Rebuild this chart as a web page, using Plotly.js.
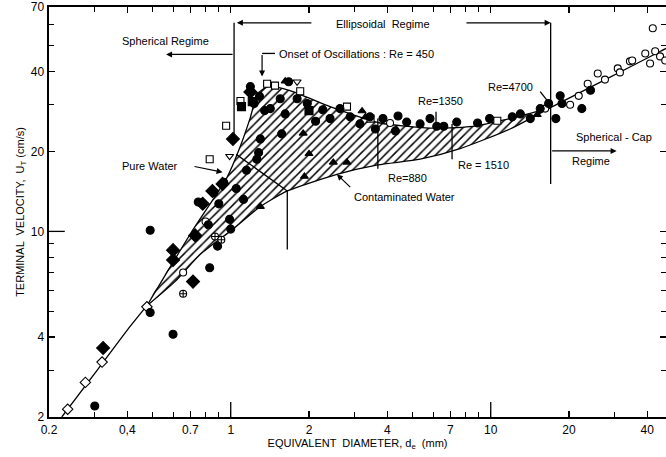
<!DOCTYPE html>
<html><head><meta charset="utf-8">
<script src="https://cdn.plot.ly/plotly-3.0.1.min.js"></script>
<style>html,body{margin:0;padding:0;background:#fff}#chart{width:666px;height:457px}</style>
</head><body><div id="chart"></div>
<script>
// ---- curves (d_e in mm, U_T in cm/s) ----
const commonD = [0.224, 0.30, 0.40, 0.476];
const commonU = [2.0, 2.92, 4.25, 5.25];
const pureD = [0.476, 0.70, 0.968, 1.086, 1.186, 1.27, 1.39, 1.69, 2.41, 3.75, 5.84, 8.32, 11.86, 16.9];
const pureU = [5.25, 9.8, 16.0, 20.8, 26.6, 33.0, 35.1, 33.9, 29.5, 25.6, 24.5, 24.8, 26.6, 29.2];
const contD = [0.476, 0.61, 0.762, 1.02, 1.30, 1.65, 2.56, 3.68, 5.35, 7.62, 11.86, 16.9];
const contU = [5.25, 6.47, 8.18, 10.2, 12.4, 14.2, 16.4, 17.8, 18.7, 20.5, 24.3, 29.2];
const capD = [16.9, 26.3, 44.8, 48];
const capU = [29.2, 36.4, 47.6, 49.2];

// ---- experimental points ----
const fcD = [0.30,0.49,0.60,0.49,0.89,1.0,0.99,0.90,0.86,0.94,0.75,1.12,0.82,0.83,1.26,1.28,1.30,1.57,1.35,1.19,1.29,1.67,1.55,1.23,1.42,1.62,1.80,1.97,2.12,2.26,2.41,2.63,2.88,3.14,3.43,3.60,3.85,4.30,4.40,4.75,5.35,5.84,6.20,6.60,7.40,8.90,9.90,12.1,13.0,14.2,15.5,16.7,17.8,18.5,18.8,22.4,24.2,1.15,1.05];
const fcU = [2.2,4.95,4.1,10.1,8.8,10.2,11.1,12.7,14.0,15.3,12.9,13.2,10.6,7.3,18.7,19.8,22.3,23.3,28.5,35.1,32.3,36.6,31.6,30.3,29.0,27.7,31.6,30.3,26.0,28.7,26.6,29.0,27.0,25.4,27.0,24.3,26.6,23.9,27.2,25.8,25.4,26.6,24.9,24.9,25.8,25.6,26.6,27.0,27.7,26.6,29.0,30.3,26.6,32.4,30.3,29.0,34.0,17.0,14.5];
const ocD = [0.80,0.656,4.1,16.2,20.2,21.8,23.6,25.8,27.5,30.8,31.4,34.3,35.0,39.3,41.0,42.9,44.8,42.0,46.9];
const ocU = [10.9,7.0,25.6,29.0,30.0,32.4,36.0,39.3,37.3,41.1,39.7,43.7,44.0,46.8,42.9,47.7,45.6,58.2,44.0];
const odD = [0.236,0.276,0.32,0.476];
const odU = [2.14,2.7,3.22,5.2];
const fdD = [0.323,0.60,0.60,0.716,0.73,0.78,0.85,0.93,1.02,1.19];
const fdU = [3.64,8.5,7.8,6.47,9.66,12.7,14.2,15.1,22.3,33.5];
const osD = [0.83,0.96,1.09,1.38,1.48,2.8,3.45,1.85,10.6];
const osU = [18.7,25.0,31.0,36.0,35.4,29.5,26.6,33.7,26.1];
const fsD = [1.21,1.10,2.0];
const fsU = [30.8,29.5,28.5];
const ftD = [2.0,2.48,2.8,1.92,1.3,3.2,3.3,1.62,15.1,1.9];
const ftU = [19.6,18.2,18.2,16.1,12.4,28.4,27.0,36.8,27.5,23.4];
const itD = [0.99,1.8,1.25];
const itU = [19.2,36.6,30.5];
const hcD = [0.656,0.87,0.92];
const hcU = [5.82,9.57,9.3];

// ---- axis ticks ----
const xTickVals = [0.2,0.4,0.7,1,2,4,7,10,20,40];
const xTickText = ["0.2","0,4","0.7","1","2","4","7","10","20","40"];
const xMinor = [0.3,0.5,0.6,0.8,0.9,3,5,6,8,9,30];
const yTickVals = [2,4,10,20,40,70];
const yTickText = ["2","4","10","20","40","70"];
const yMinor = [3,5,6,7,8,9,30,50,60];

const L = Math.log10;
const FONT = "Liberation Sans, Arial, sans-serif";

function pts(x, y, sym, fill, size) {
  return {x, y, type:'scatter', mode:'markers', hoverinfo:'skip', showlegend:false,
    marker:{symbol:sym, color:fill, size:size||7, line:{color:'black', width:1.1}}};
}
function line(x, y, w) {
  return {x, y, type:'scatter', mode:'lines', hoverinfo:'skip', showlegend:false,
    line:{color:'black', width:w||1.3, shape:'spline', smoothing:0.6}};
}

const bandX = pureD.concat(contD.slice().reverse());
const bandY = pureU.concat(contU.slice().reverse());

const traces = [
  {x:bandX, y:bandY, type:'scatter', mode:'lines', fill:'toself', hoverinfo:'skip', showlegend:false,
   line:{width:0, color:'rgba(0,0,0,0)', shape:'spline', smoothing:0.6},
   fillcolor:'rgba(0,0,0,0)',
   fillpattern:{shape:'/', size:6, solidity:0.25, fgcolor:'black', bgcolor:'white'}},
  line(commonD, commonU), line(pureD, pureU), line(contD, contU), line(capD, capU),
  pts(odD, odU, 'diamond', 'white', 8),
  pts(osD, osU, 'square', 'white', 7),
  pts(itD, itU, 'triangle-down', 'white', 7),
  pts(ocD, ocU, 'circle', 'white', 7),
  pts(hcD, hcU, 'circle-cross', 'white', 7),
  pts(fcD, fcU, 'circle', 'black', 8),
  pts(fdD, fdU, 'diamond', 'black', 10),
  pts(fsD, fsU, 'square', 'black', 8),
  pts(ftD, ftU, 'triangle-up', 'black', 7)
];

// guide lines (data coordinates)
const guideLines = [
  [1.03, 61, 1.03, 21.8],
  [17.0, 61, 17.0, 15.1],
  [1.05, 19.5, 1.65, 14.2],
  [1.65, 14.2, 1.65, 8.55],
  [3.68, 26.6, 3.68, 17.2],
  [6.16, 28.2, 6.16, 24.3],
  [7.1, 25.4, 7.1, 18.7],
  [15.5, 33.6, 17.2, 29.5],
  [1.32, 46.8, 1.48, 46.8],
  [1, 2, 1, 2.28],
  [10, 2, 10, 2.28],
  [0.2, 10, 0.23, 10]
];
const shapes = guideLines.map(g => ({type:'line', xref:'x', yref:'y', x0:g[0], y0:g[1], x1:g[2], y1:g[3],
  line:{color:'black', width:1.3}}));

// arrows: [headD, headU, tailD, tailU]
const arrows = [
  [0.564, 46.4, 1.03, 46.4],
  [1.056, 61, 2.07, 61],
  [17.0, 61, 7.96, 61],
  [1.32, 38.3, 1.32, 46.8],
  [30.5, 20.1, 17.0, 20.1],
  [0.93, 16.7, 0.716, 17.6],
  [2.56, 16.4, 2.92, 14.5]
];
const annotations = arrows.map(a => ({x:L(a[0]), y:L(a[1]), ax:L(a[2]), ay:L(a[3]), xref:'x', yref:'y',
  axref:'x', ayref:'y', text:'', showarrow:true, arrowhead:2, arrowsize:1, arrowwidth:1.2, arrowcolor:'black'}));

function P(px, py) { return {x:(px-49)/617, y:(417-py)/410}; }
const labels = [
  ["Spherical Regime", 165, 41, 'center'],
  ["Ellipsoidal  Regime", 383, 24, 'center'],
  ["Onset of Oscillations : Re = 450", 277, 54, 'left'],
  ["Re=1350", 440, 101, 'center'],
  ["Re=4700", 510, 87, 'center'],
  ["Re=880", 407, 178, 'center'],
  ["Re = 1510", 483, 165, 'center'],
  ["Pure Water", 150, 166, 'center'],
  ["Contaminated Water", 352, 197, 'left'],
  ["Spherical - Cap", 614, 137, 'center'],
  ["Regime", 591, 161, 'center']
];
labels.forEach(l => {
  const p = P(l[1], l[2]);
  annotations.push({x:p.x, y:p.y, xref:'paper', yref:'paper', text:l[0], showarrow:false,
    xanchor:l[3], yanchor:'middle', font:{family:FONT, size:11, color:'black'}});
});

const layout = {
  width:666, height:457,
  margin:{l:49, r:0, t:7, b:40},
  paper_bgcolor:'white', plot_bgcolor:'white',
  showlegend:false,
  xaxis:{type:'log', range:[L(0.2), L(0.2)+617/260], tickmode:'array', tickvals:xTickVals, ticktext:xTickText,
    ticks:'inside', ticklen:6, tickwidth:1.3, tickcolor:'black', showline:true, linecolor:'black', linewidth:2.2,
    mirror:'ticks', showgrid:false, zeroline:false,
    tickfont:{family:FONT, size:12, color:'black'},
    minor:{tickmode:'array', tickvals:xMinor, ticks:'inside', ticklen:5, tickwidth:1, tickcolor:'black', showgrid:false},
    title:{text:'EQUIVALENT  DIAMETER, d<sub>e</sub>  (mm)', font:{family:FONT, size:11, color:'black'}, standoff:2}},
  yaxis:{type:'log', range:[L(2), L(70)], tickmode:'array', tickvals:yTickVals, ticktext:yTickText,
    ticks:'inside', ticklen:6, tickwidth:1.3, tickcolor:'black', showline:true, linecolor:'black', linewidth:2.5,
    mirror:'ticks', showgrid:false, zeroline:false,
    tickfont:{family:FONT, size:12, color:'black'},
    minor:{tickmode:'array', tickvals:yMinor, ticks:'inside', ticklen:5, tickwidth:1, tickcolor:'black', showgrid:false},
    title:{text:'TERMINAL  VELOCITY,  U<sub>T</sub> (cm/s)', font:{family:FONT, size:11, color:'black'}, standoff:4}},
  shapes, annotations
};

Plotly.newPlot('chart', traces, layout, {staticPlot:true, displayModeBar:false});
</script></body></html>
